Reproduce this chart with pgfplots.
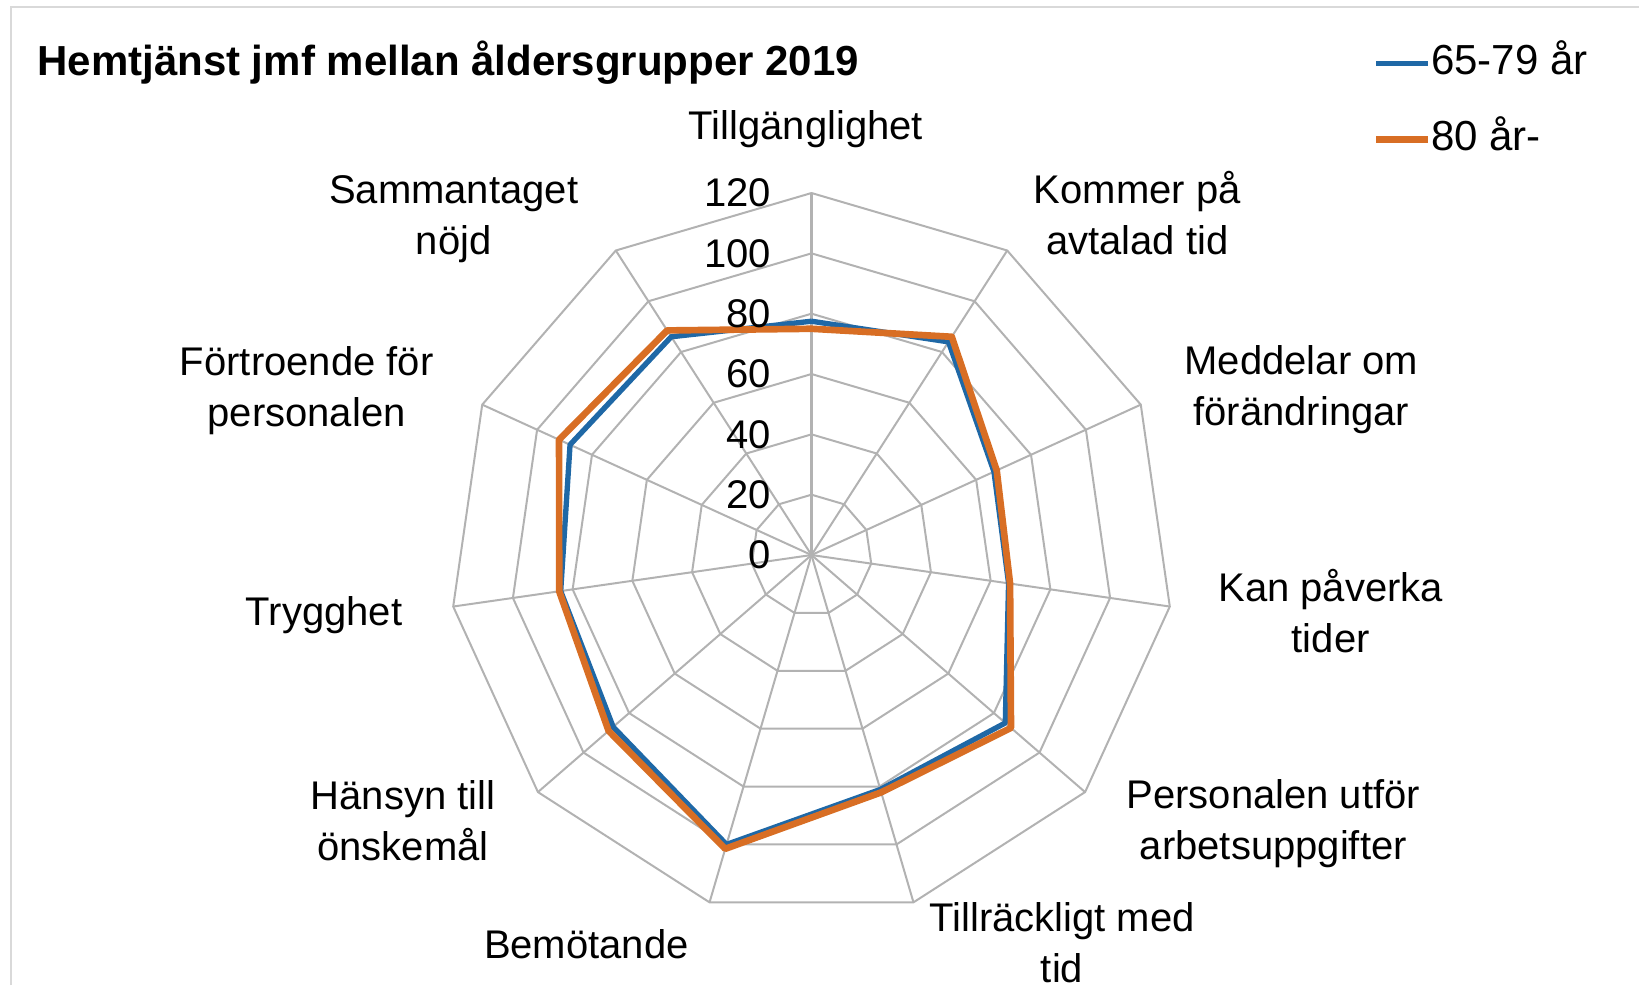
\documentclass[border=0pt]{standalone}
\usepackage{fontspec}
\setmainfont{Liberation Sans}
\usepackage{pgfplots}
\pgfplotsset{compat=1.18}
\usepgfplotslibrary{polar}
\definecolor{serA}{RGB}{31,104,166}
\definecolor{serB}{RGB}{216,110,36}
\definecolor{gridc}{RGB}{178,178,178}
\definecolor{framec}{RGB}{217,217,217}
\begin{document}
\begin{tikzpicture}
\path[use as bounding box] (0pt,0pt) rectangle (491.7pt,-295.5pt);
\draw[framec, line width=0.6pt] (3.3pt,-295.5pt) -- (3.3pt,-2.1pt) -- (491.7pt,-2.1pt);
\begin{polaraxis}[
  at={(243.45pt,-166.5pt)}, anchor=center,
  width=217.2pt, height=217.2pt, scale only axis,
  xmin=0, xmax=360, ymin=0, ymax=120,
  hide axis, clip=false,
  legend cell align=left,
  legend image code/.code={\draw[#1] (0pt,0pt) -- (15.6pt,0pt);},
  legend style={draw=none, fill=none, at={(1.2742,1.2082)}, anchor=north west,
    inner sep=0pt, row sep=10.3pt, column sep=-0.6pt,
    font=\fontsize{12.6}{15}\selectfont,
    nodes={inner sep=0.5pt, text height=9pt, text depth=2.5pt}},
]
\pgfplotsinvokeforeach{20,40,60,80,100,120}{
  \draw[gridc, line width=0.6pt, line join=round] (axis cs:90,#1) -- (axis cs:57.2727,#1) -- (axis cs:24.5455,#1) -- (axis cs:351.8182,#1) -- (axis cs:319.0909,#1) -- (axis cs:286.3636,#1) -- (axis cs:253.6364,#1) -- (axis cs:220.9091,#1) -- (axis cs:188.1818,#1) -- (axis cs:155.4545,#1) -- (axis cs:122.7273,#1) -- cycle;
}
\pgfplotsinvokeforeach{57.2727,24.5455,351.8182,319.0909,286.3636,253.6364,220.9091,188.1818,155.4545,122.7273}{
  \draw[gridc, line width=0.6pt] (axis cs:0,0) -- (axis cs:#1,120);
}
\draw[gridc, line width=0.9pt] (axis cs:0,0) -- (axis cs:90,120);
\addplot[serA, line width=1.6pt, line join=round] coordinates {
  (90,77.5) (57.2727,84) (24.5455,66.5) (351.8182,66) (319.0909,85)
  (286.3636,81) (253.6364,100) (220.9091,87) (188.1818,84)
  (155.4545,88) (122.7273,86) (90,77.5)};
\addlegendentry{65-79 år}
\addplot[serB, line width=2pt, line join=round] coordinates {
  (90,75) (57.2727,86) (24.5455,67.5) (351.8182,66.5) (319.0909,87.5)
  (286.3636,82) (253.6364,101.5) (220.9091,89) (188.1818,84.5)
  (155.4545,92) (122.7273,88.5) (90,75)};
\addlegendentry{80 år-}
\pgfplotsinvokeforeach{0,20,40,60,80,100,120}{
  \node[anchor=east, inner sep=0pt, font=\fontsize{12}{15}\selectfont] at ([xshift=-12pt]axis cs:90,#1) {#1};
}
\end{polaraxis}
\node[anchor=base west, font=\fontsize{12.6}{15}\selectfont\bfseries, inner sep=0pt] at (11pt,-22.5pt) {Hemtjänst jmf mellan åldersgrupper 2019};
\begin{scope}[every node/.style={align=center, font=\fontsize{12}{15.3}\selectfont, inner sep=0pt}]
\node at (241.8pt,-38.6pt) {Tillgänglighet};
\node at (341.2pt,-63.8pt) {Kommer på\\avtalad tid};
\node at (390.4pt,-117.0pt) {Meddelar om\\förändringar};
\node at (399.2pt,-183.3pt) {Kan påverka\\tider};
\node at (382.0pt,-247.2pt) {Personalen utför\\arbetsuppgifter};
\node at (318.6pt,-282.7pt) {Tillräckligt med\\tid};
\node at (175.9pt,-283.2pt) {Bemötande};
\node at (120.9pt,-246.2pt) {Hänsyn till\\önskemål};
\node at (97.2pt,-184.5pt) {Trygghet};
\node at (92.0pt,-117.2pt) {Förtroende för\\personalen};
\node at (136.1pt,-65.8pt) {Sammantaget\\nöjd};
\end{scope}
\end{tikzpicture}
\end{document}
